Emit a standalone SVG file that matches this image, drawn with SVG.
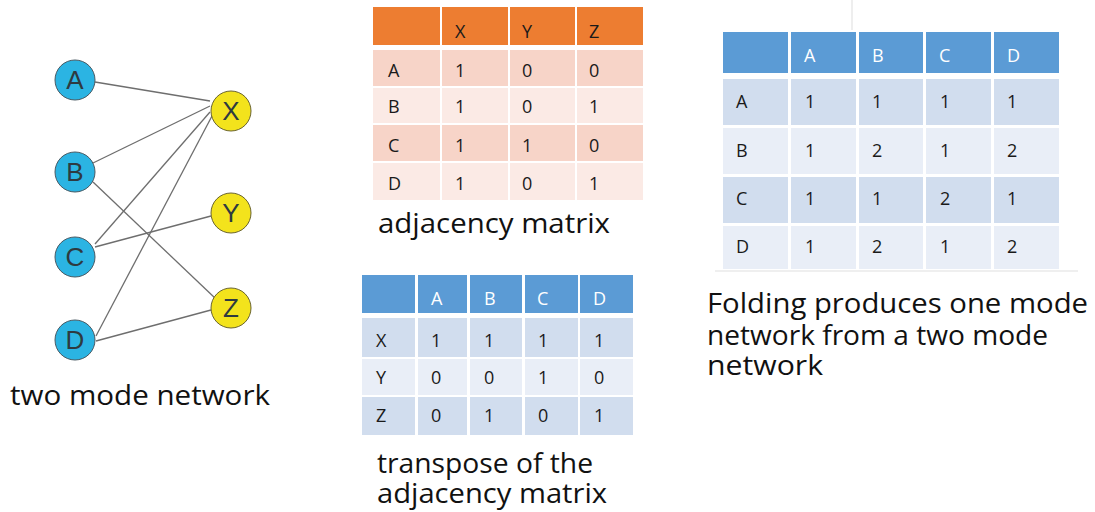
<svg xmlns="http://www.w3.org/2000/svg" width="1095" height="512" viewBox="0 0 1095 512">
<style>
.edge{stroke:#6e6e6e;stroke-width:1.3;fill:none}
.ln{fill:#2bb4e3;stroke:#4a5a63;stroke-width:1}
.rn{fill:#f3e31c;stroke:#6a6430;stroke-width:1}
.nl{font-family:"Liberation Sans",Arial,sans-serif;font-size:26px;fill:#2e3a40;text-anchor:middle}
.cell{font-family:"Open Sans","Liberation Sans",sans-serif;font-size:18px;fill:#1a1a1a}
.wh{fill:#ffffff}
.cap{font-family:"Open Sans","Liberation Sans",sans-serif;font-size:27px;fill:#111}
.oh{fill:#ed7d31}.o1{fill:#f7d4c8}.o2{fill:#fbeae5}
.bh{fill:#5b9bd5}.b1{fill:#d1ddee}.b2{fill:#e9eef7}
</style>
<rect width="1095" height="512" fill="#ffffff"/>
<line x1="852" y1="0" x2="852" y2="30" stroke="#eeeeee" stroke-width="2"/>
<line x1="715" y1="271" x2="1078" y2="271" stroke="#efefef" stroke-width="2"/>

<g id="connectors">
<line class="edge" x1="95" y1="82" x2="210" y2="101"/>
<line class="edge" x1="93" y1="163" x2="210" y2="106"/>
<line class="edge" x1="95" y1="244" x2="210" y2="112"/>
<line class="edge" x1="96" y1="336" x2="212" y2="116"/>
<line class="edge" x1="95" y1="247" x2="211" y2="216"/>
<line class="edge" x1="93" y1="182" x2="216" y2="299"/>
<line class="edge" x1="96" y1="341" x2="211" y2="310"/>
</g>

<g id="node-A"><circle class="ln" cx="75" cy="80" r="20"/><text class="nl" x="75" y="89">A</text></g>
<g id="node-B"><circle class="ln" cx="75" cy="172" r="20"/><text class="nl" x="75" y="181">B</text></g>
<g id="node-C"><circle class="ln" cx="75" cy="257" r="20"/><text class="nl" x="75" y="266">C</text></g>
<g id="node-D"><circle class="ln" cx="75" cy="340" r="20"/><text class="nl" x="75" y="349">D</text></g>
<g id="node-X"><circle class="rn" cx="231" cy="111" r="20"/><text class="nl" x="231" y="120">X</text></g>
<g id="node-Y"><circle class="rn" cx="231" cy="213" r="20"/><text class="nl" x="231" y="222">Y</text></g>
<g id="node-Z"><circle class="rn" cx="231" cy="308" r="20"/><text class="nl" x="231" y="317">Z</text></g>

<text class="cap" x="10" y="405" textLength="260" lengthAdjust="spacingAndGlyphs">two mode network</text>

<g id="adjacency-matrix">
<rect class="oh" x="373" y="7" width="67" height="38"/>
<rect class="oh" x="442" y="7" width="66" height="38"/>
<rect class="oh" x="510" y="7" width="65" height="38"/>
<rect class="oh" x="577" y="7" width="66" height="38"/>
<rect class="o1" x="373" y="50" width="67" height="36"/>
<rect class="o1" x="442" y="50" width="66" height="36"/>
<rect class="o1" x="510" y="50" width="65" height="36"/>
<rect class="o1" x="577" y="50" width="66" height="36"/>
<rect class="o2" x="373" y="88" width="67" height="35"/>
<rect class="o2" x="442" y="88" width="66" height="35"/>
<rect class="o2" x="510" y="88" width="65" height="35"/>
<rect class="o2" x="577" y="88" width="66" height="35"/>
<rect class="o1" x="373" y="125" width="67" height="36"/>
<rect class="o1" x="442" y="125" width="66" height="36"/>
<rect class="o1" x="510" y="125" width="65" height="36"/>
<rect class="o1" x="577" y="125" width="66" height="36"/>
<rect class="o2" x="373" y="163" width="67" height="37"/>
<rect class="o2" x="442" y="163" width="66" height="37"/>
<rect class="o2" x="510" y="163" width="65" height="37"/>
<rect class="o2" x="577" y="163" width="66" height="37"/>
<text class="cell" x="455" y="38">X</text><text class="cell" x="522" y="38">Y</text><text class="cell" x="589" y="38">Z</text>
<text class="cell" x="388" y="77">A</text><text class="cell" x="455" y="77">1</text><text class="cell" x="522" y="77">0</text><text class="cell" x="589" y="77">0</text>
<text class="cell" x="388" y="113">B</text><text class="cell" x="455" y="113">1</text><text class="cell" x="522" y="113">0</text><text class="cell" x="589" y="113">1</text>
<text class="cell" x="388" y="152">C</text><text class="cell" x="455" y="152">1</text><text class="cell" x="522" y="152">1</text><text class="cell" x="589" y="152">0</text>
<text class="cell" x="388" y="190">D</text><text class="cell" x="455" y="190">1</text><text class="cell" x="522" y="190">0</text><text class="cell" x="589" y="190">1</text>
</g>
<text class="cap" x="378" y="233" textLength="232" lengthAdjust="spacingAndGlyphs">adjacency matrix</text>

<g id="transpose-matrix">
<rect class="bh" x="362" y="275" width="53" height="38"/>
<rect class="bh" x="418" y="275" width="49" height="38"/>
<rect class="bh" x="470" y="275" width="52" height="38"/>
<rect class="bh" x="525" y="275" width="53" height="38"/>
<rect class="bh" x="580" y="275" width="53" height="38"/>
<rect class="b1" x="362" y="318" width="53" height="39"/>
<rect class="b1" x="418" y="318" width="49" height="39"/>
<rect class="b1" x="470" y="318" width="52" height="39"/>
<rect class="b1" x="525" y="318" width="53" height="39"/>
<rect class="b1" x="580" y="318" width="53" height="39"/>
<rect class="b2" x="362" y="359" width="53" height="36"/>
<rect class="b2" x="418" y="359" width="49" height="36"/>
<rect class="b2" x="470" y="359" width="52" height="36"/>
<rect class="b2" x="525" y="359" width="53" height="36"/>
<rect class="b2" x="580" y="359" width="53" height="36"/>
<rect class="b1" x="362" y="397" width="53" height="38"/>
<rect class="b1" x="418" y="397" width="49" height="38"/>
<rect class="b1" x="470" y="397" width="52" height="38"/>
<rect class="b1" x="525" y="397" width="53" height="38"/>
<rect class="b1" x="580" y="397" width="53" height="38"/>
<text class="cell wh" x="431" y="305">A</text><text class="cell wh" x="484" y="305">B</text><text class="cell wh" x="537" y="305">C</text><text class="cell wh" x="593" y="305">D</text>
<text class="cell" x="376" y="347">X</text><text class="cell" x="431" y="347">1</text><text class="cell" x="484" y="347">1</text><text class="cell" x="538" y="347">1</text><text class="cell" x="594" y="347">1</text>
<text class="cell" x="376" y="384">Y</text><text class="cell" x="431" y="384">0</text><text class="cell" x="484" y="384">0</text><text class="cell" x="538" y="384">1</text><text class="cell" x="594" y="384">0</text>
<text class="cell" x="376" y="422">Z</text><text class="cell" x="431" y="422">0</text><text class="cell" x="484" y="422">1</text><text class="cell" x="538" y="422">0</text><text class="cell" x="594" y="422">1</text>
</g>
<text class="cap" x="377" y="473" textLength="216" lengthAdjust="spacingAndGlyphs">transpose of the</text>
<text class="cap" x="377" y="503" textLength="230" lengthAdjust="spacingAndGlyphs">adjacency matrix</text>

<g id="folded-matrix">
<rect class="bh" x="723" y="32" width="65" height="41"/>
<rect class="bh" x="791" y="32" width="65" height="41"/>
<rect class="bh" x="859" y="32" width="64" height="41"/>
<rect class="bh" x="926" y="32" width="65" height="41"/>
<rect class="bh" x="994" y="32" width="65" height="41"/>
<rect class="b1" x="723" y="79" width="65" height="46"/>
<rect class="b1" x="791" y="79" width="65" height="46"/>
<rect class="b1" x="859" y="79" width="64" height="46"/>
<rect class="b1" x="926" y="79" width="65" height="46"/>
<rect class="b1" x="994" y="79" width="65" height="46"/>
<rect class="b2" x="723" y="128" width="65" height="46"/>
<rect class="b2" x="791" y="128" width="65" height="46"/>
<rect class="b2" x="859" y="128" width="64" height="46"/>
<rect class="b2" x="926" y="128" width="65" height="46"/>
<rect class="b2" x="994" y="128" width="65" height="46"/>
<rect class="b1" x="723" y="177" width="65" height="46"/>
<rect class="b1" x="791" y="177" width="65" height="46"/>
<rect class="b1" x="859" y="177" width="64" height="46"/>
<rect class="b1" x="926" y="177" width="65" height="46"/>
<rect class="b1" x="994" y="177" width="65" height="46"/>
<rect class="b2" x="723" y="226" width="65" height="43"/>
<rect class="b2" x="791" y="226" width="65" height="43"/>
<rect class="b2" x="859" y="226" width="64" height="43"/>
<rect class="b2" x="926" y="226" width="65" height="43"/>
<rect class="b2" x="994" y="226" width="65" height="43"/>
<text class="cell wh" x="804" y="62">A</text><text class="cell wh" x="872" y="62">B</text><text class="cell wh" x="939" y="62">C</text><text class="cell wh" x="1007" y="62">D</text>
<text class="cell" x="736" y="108">A</text><text class="cell" x="805" y="108">1</text><text class="cell" x="872" y="108">1</text><text class="cell" x="940" y="108">1</text><text class="cell" x="1007" y="108">1</text>
<text class="cell" x="736" y="157">B</text><text class="cell" x="805" y="157">1</text><text class="cell" x="872" y="157">2</text><text class="cell" x="940" y="157">1</text><text class="cell" x="1007" y="157">2</text>
<text class="cell" x="736" y="205">C</text><text class="cell" x="805" y="205">1</text><text class="cell" x="872" y="205">1</text><text class="cell" x="940" y="205">2</text><text class="cell" x="1007" y="205">1</text>
<text class="cell" x="736" y="253">D</text><text class="cell" x="805" y="253">1</text><text class="cell" x="872" y="253">2</text><text class="cell" x="940" y="253">1</text><text class="cell" x="1007" y="253">2</text>
</g>
<text class="cap" x="707" y="313" textLength="381" lengthAdjust="spacingAndGlyphs">Folding  produces one mode</text>
<text class="cap" x="707" y="345" textLength="341" lengthAdjust="spacingAndGlyphs">network from a two mode</text>
<text class="cap" x="707" y="375" textLength="116" lengthAdjust="spacingAndGlyphs">network</text>
</svg>
